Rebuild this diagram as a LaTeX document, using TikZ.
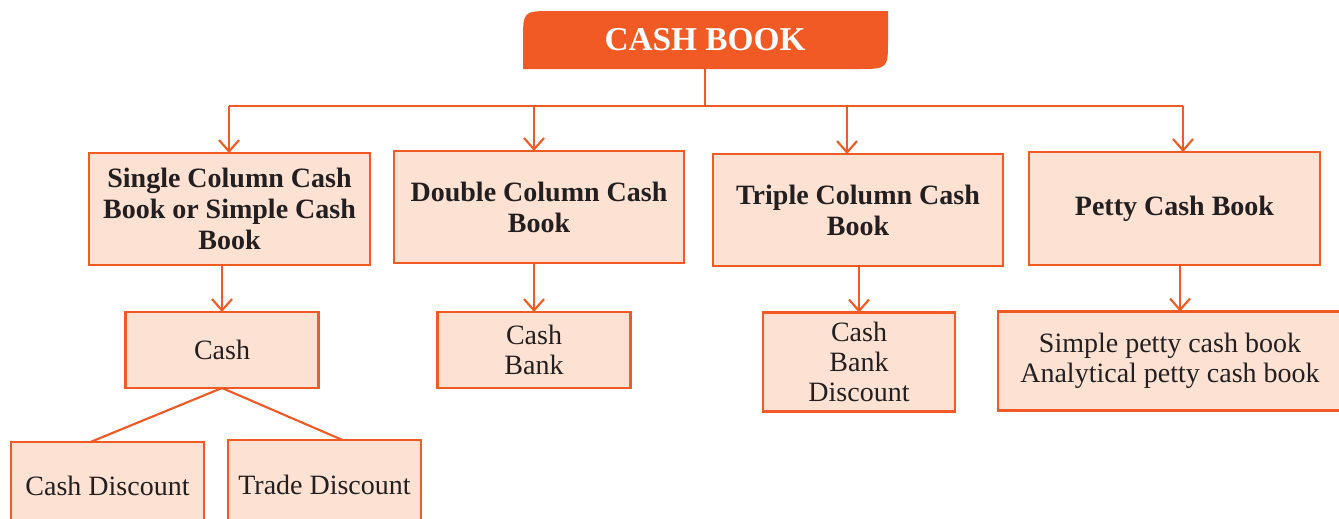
\documentclass[tikz,border=0pt]{standalone}
\usepackage{fontspec}
\setmainfont{Liberation Serif}
\usetikzlibrary{arrows.meta,calc}
\definecolor{cbOrange}{HTML}{F15A24}
\definecolor{cbFill}{HTML}{FDE1D3}
\definecolor{cbText}{HTML}{231F20}
\tikzset{
  box/.style={draw=cbOrange, fill=cbFill, line width=1.7pt, inner sep=0pt, outer sep=0pt,
    align=center, text=cbText},
  headbox/.style={box, font=\bfseries\fontsize{21}{23.3}\selectfont},
  subbox/.style={box, font=\fontsize{21}{22.5}\selectfont},
  link/.style={draw=cbOrange, line width=1.6pt},
  arr/.style={link, -{Straight Barb[length=8.5pt,width=15pt,line width=1.6pt]}},
}
\begin{document}
\begin{tikzpicture}[x=0.75pt, y=-0.75pt]
\useasboundingbox (0,0) rectangle (1339,518);
\clip (0,0) rectangle (1339,518);

% title banner with two rounded corners
\fill[cbOrange] (523,69) -- (523,41) .. controls (523,11) .. (553,11) -- (888,11)
  -- (888,39) .. controls (888,69) .. (858,69) -- cycle;
\node[inner sep=0pt, outer sep=0pt, minimum width=273.75pt, minimum height=43.5pt,
  text=white, font=\bfseries\fontsize{25}{30}\selectfont] (title) at (705,40) {CASH BOOK};

% main types
\node[headbox, minimum width=210.75pt, minimum height=84pt] (b1) at (229.5,209)
  {Single Column Cash\\Book or Simple Cash\\Book};
\node[headbox, minimum width=217.5pt, minimum height=84pt] (b2) at (539,207)
  {Double Column Cash\\Book};
\node[headbox, minimum width=217.5pt, minimum height=84pt] (b3) at (858,210)
  {Triple Column Cash\\Book};
\node[headbox, minimum width=218.25pt, minimum height=84.75pt] (b4) at (1174.5,208.5)
  {Petty Cash Book};

% columns of each type
\node[subbox, minimum width=144.75pt, minimum height=57pt] (s1) at (222,350) {Cash};
\node[subbox, minimum width=144.75pt, minimum height=57pt] (s2) at (534,350) {Cash\\Bank};
\node[subbox, minimum width=144pt, minimum height=74.25pt] (s3) at (859,362) {Cash\\Bank\\Discount};
\node[subbox, minimum width=258pt, minimum height=74.25pt] (s4) at (1170,361)
  {Simple petty cash book\\Analytical petty cash book};

% discounts
\node[subbox, minimum width=144.75pt, minimum height=66pt] (d1) at (107.5,486) {Cash Discount};
\node[subbox, minimum width=144.75pt, minimum height=67.5pt] (d2) at (324.5,485) {Trade Discount};

% connectors
\coordinate (j) at (705,106);
\coordinate (t1) at (229,106);
\coordinate (t2) at (534,106);
\coordinate (t3) at (847,106);
\coordinate (t4) at (1183,106);
\draw[link] (title.south) -- (j);
\draw[link] (t1) -- (t4);
\draw[arr] (t1) -- (t1 |- b1.north);
\draw[arr] (t2) -- (t2 |- b2.north);
\draw[arr] (t3) -- (t3 |- b3.north);
\draw[arr] (t4) -- (t4 |- b4.north);

\draw[arr] (s1.north |- b1.south) -- (s1.north);
\draw[arr] (s2.north |- b2.south) -- (s2.north);
\draw[arr] (s3.north |- b3.south) -- (s3.north);
\coordinate (p4) at (1180,265);
\draw[arr] (p4) -- (p4 |- s4.north);

\draw[link] (s1.south) -- ($(d1.north)+(-17,0)$);
\draw[link] (s1.south) -- ($(d2.north)+(18,0)$);
\end{tikzpicture}
\end{document}
